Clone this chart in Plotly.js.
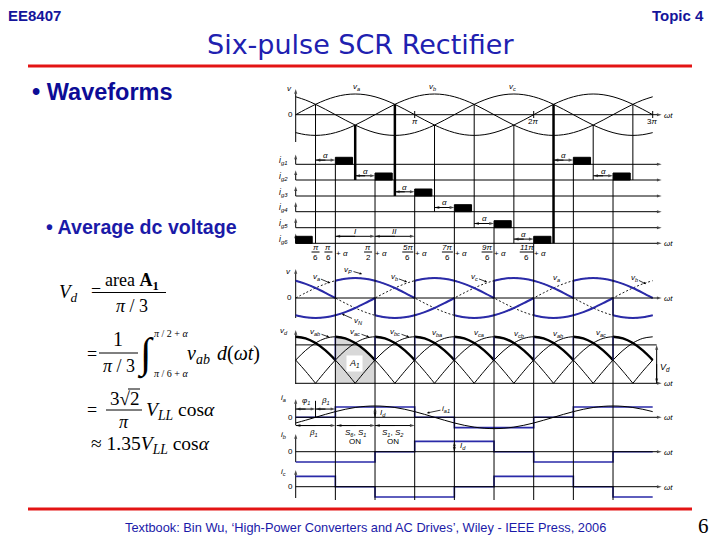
<!DOCTYPE html>
<html><head><meta charset="utf-8">
<script src="https://cdn.plot.ly/plotly-3.0.1.min.js"></script>
<style>html,body{margin:0;padding:0;background:#fff}#chart{width:720px;height:540px}</style>
</head><body><div id="chart"></div>
<script>
// ================= DATA =================
const stepDeg = 15;
const sinTable = [0,0.2588,0.5,0.7071,0.8660,0.9659,1,0.9659,0.8660,0.7071,0.5,0.2588,
                  0,-0.2588,-0.5,-0.7071,-0.8660,-0.9659,-1,-0.9659,-0.8660,-0.7071,-0.5,-0.2588];
const spanStart = 0, spanEnd = 540;
const alphaDeg = 30;
const phaseShift = [0, 120, 240];                 // va, vb, vc
const llShift = [330, 30, 90, 150, 210, 270];     // vab, vac, vbc, vba, vca, vcb
const llGain = 1.732;
const vpBounds = [0, 60, 180, 300, 420, 540];
const vpShift  = [240, 0, 120, 240, 0];
const vnBounds = [0, 120, 240, 360, 480, 540];
const vnShift  = [120, 240, 0, 120, 240];
const vdBounds = [0, 60, 120, 180, 240, 300, 360, 420, 480, 540];
const vdShift  = [270, 330, 30, 90, 150, 210, 270, 330, 30];
const vdAvg = 1.43;
const areaRange = [60, 120], areaShift = 330;
const crossAngles = [30, 90, 150, 210, 270, 330, 390, 450, 510];
const crossValues = [0.5, -0.5, 0.5, -0.5, 0.5, -0.5, 0.5, -0.5, 0.5];
const crossRow    = [6, 2, 3, 4, 5, 6, 6, 2, 2];
const crossThick  = [0, 1, 1, 0, 0, 0, 1, 0, 0];
const fireAngles  = [0, 60, 120, 180, 240, 300, 360, 420, 480];
const fireRow     = [6, 1, 2, 3, 4, 5, 6, 1, 2];
const pulseWidth  = [25, 26, 26, 26, 26, 26, 26, 26, 26];
const fracAngles = [30, 60, 120, 180, 240, 300, 360];
const fracNum = ['π', 'π', 'π', '5π', '7π', '9π', '11π'];
const fracDen = ['6', '6', '2', '6', '6', '6', '6'];
const fracPlusAlpha = [false, true, true, true, true, true, true];
const iaX = [0, 60, 180, 240, 360, 420, 540], iaY = [0, 1, 0, -1, 0, 1, 1];
const ibX = [0, 120, 180, 300, 360, 480, 540], ibY = [-1, 0, 1, 0, -1, 0, 0];
const icX = [0, 60, 120, 240, 300, 420, 480, 540], icY = [1, 0, -1, 0, 1, 0, -1, -1];
const ia1Gain = 1.1, ia1Shift = 30;

// ================= LAYOUT GEOMETRY =================
const W = 720, H = 540;
const X0 = 295.7, PXD = 357 / 540;
const rowPx = [164.3, 180, 196, 211.7, 227.7, 243.3];
const panelDefs = [['top',114.7,20.7],['mid',298,20],['vd',383.3,26.85],['ia',417.3,10.3],['ib',451.7,10.3],['ic',486.7,10.3]];
rowPx.forEach((p,i)=>panelDefs.push(['g'+(i+1),p,7]));
const AX = {}; const PD = {};
panelDefs.forEach((p,i)=>{AX[p[0]]='y'+(i+2); PD[p[0]]={zero:p[1],unit:p[2]};});
const toPx = (panel, v) => PD[panel].zero - v*PD[panel].unit;
const BLUE = '#2a2aa8';
const LF = 'Liberation Sans';

function sine(shift, a, b, gain=1){
  const x=[], y=[];
  for(let t=a; t<=b+1e-9; t+=stepDeg){
    const k = ((((t-shift)/stepDeg)%24)+24)%24;
    x.push(t); y.push(gain*sinTable[k]);
  }
  return {x,y};
}
const traces = [];
function line(x,y,yaxis,color,width,shape='spline',dash='solid'){
  traces.push({type:'scatter',mode:'lines',x,y,yaxis,line:{color,width,shape,dash},hoverinfo:'skip'});
}
function rail(bounds, shifts, gain, yaxis, color, width, jumpColor, jumpWidth){
  const X=[],Y=[],JX=[],JY=[]; let prev=null;
  for(let i=0;i<shifts.length;i++){
    const d=sine(shifts[i],bounds[i],bounds[i+1],gain);
    X.push(...d.x,null); Y.push(...d.y,null);
    if(prev!==null){JX.push(bounds[i],bounds[i],null); JY.push(prev,d.y[0],null);}
    prev=d.y[d.y.length-1];
  }
  line(X,Y,yaxis,color,width);
  line(JX,JY,yaxis,jumpColor,jumpWidth,'linear');
}
// arrows drawn as traces with arrow markers
function AR(x0,y0,x1,y1,yaxis,dbl=false){
  let x,y,s;
  if(dbl){const mx=(x0+x1)/2,my=(y0+y1)/2; x=[mx,x0,mx,x1]; y=[my,y0,my,y1]; s=[0,5,0,5];}
  else {x=[x0,x1]; y=[y0,y1]; s=[0,5];}
  traces.push({type:'scatter',mode:'lines+markers',x,y,yaxis,line:{color:'#000',width:1},
    marker:{symbol:'arrow',angleref:'previous',size:s,color:'#000',line:{width:0}},hoverinfo:'skip'});
}

// ---- top panel ----
phaseShift.forEach(s=>{const d=sine(s,spanStart,spanEnd); line(d.x,d.y,AX.top,'#000',1);});
// ---- middle panel ----
phaseShift.forEach(s=>{const d=sine(s,spanStart,spanEnd); line(d.x,d.y,AX.mid,'#000',0.9,'spline','2px,2px');});
rail(vpBounds,vpShift,1,AX.mid,BLUE,2,BLUE,1.5);
rail(vnBounds,vnShift,1,AX.mid,BLUE,2,BLUE,1.5);
// ---- vd panel ----
{ const d=sine(areaShift,areaRange[0],areaRange[1],llGain);
  traces.push({type:'scatter',mode:'lines',x:d.x,y:d.y,yaxis:AX.vd,fill:'tozeroy',fillcolor:'#d8d8d8',line:{width:0,shape:'spline'},hoverinfo:'skip'}); }
{ const X=[],Y=[];
  llShift.forEach(s=>{ for(let n=-1;n<=1;n++){ const a=Math.max(spanStart,s+360*n), b=Math.min(spanEnd,s+360*n+180);
      if(b>a){const d=sine(s,a,b,llGain); X.push(...d.x,null); Y.push(...d.y,null);} } });
  line(X,Y,AX.vd,'#000',1); }
rail(vdBounds,vdShift,llGain,AX.vd,'#000',2.4,BLUE,1.5);
line([0,546],[vdAvg,vdAvg],AX.vd,'#000',1,'linear');
// ---- currents ----
line(iaX,iaY,AX.ia,BLUE,1.6,'hv');
{const d=sine(ia1Shift,spanStart,spanEnd,ia1Gain); line(d.x,d.y,AX.ia,'#000',1);}
line(ibX,ibY,AX.ib,BLUE,1.6,'hv');
line(icX,icY,AX.ic,BLUE,1.6,'hv');
// ---- gate pulses ----
fireAngles.forEach((s,i)=>{const w=pulseWidth[i];
  traces.push({type:'scatter',mode:'lines',x:[s,s,s+w,s+w,s],y:[0,1,1,0,0],yaxis:AX['g'+fireRow[i]],fill:'toself',fillcolor:'#000',line:{color:'#000',width:1},hoverinfo:'skip'});});

// ================= ANNOTATIONS / SHAPES =================
const ann=[], shapes=[];
function T(text,px,py,size=8,o={}){ann.push(Object.assign({xref:'paper',yref:'paper',x:px/W,y:1-py/H,text,showarrow:false,xanchor:'center',yanchor:'middle',font:{family:LF,size,color:'#000'}},o));}
function TX(text,deg,py,size=8,o={}){ann.push(Object.assign({xref:'x',yref:'y',x:deg,y:py,text,showarrow:false,xanchor:'center',yanchor:'middle',font:{family:LF,size,color:'#000'}},o));}
function TP(text,px,py,hx,hy,size=8){ann.push({xref:'paper',yref:'paper',x:hx/W,y:1-hy/H,ax:px-hx,ay:py-hy,text,showarrow:true,arrowhead:2,arrowsize:0.6,arrowwidth:0.8,arrowcolor:'#000',standoff:0,font:{family:LF,size,color:'#000'}});}
function SL(x0,y0,x1,y1,xref,yref,color='#000',width=1){shapes.push({type:'line',x0,y0,x1,y1,xref,yref,line:{color,width}});}
const wtEnd = (661.7-X0)/PXD;

// axes arrows
AR(0,142,0,89,'y'); AR(0,0,wtEnd,0,AX.top);
[180,360,540].forEach(a=>SL(a,111,a,118,'x','y'));
rowPx.forEach((p,i)=>{AR(0,0,wtEnd,0,AX['g'+(i+1)]); AR(0,0,0,1.4,AX['g'+(i+1)]);});
AR(0,318,0,269,'y'); AR(0,0,wtEnd,0,AX.mid);
AR(0,384,0,330,'y'); AR(0,0,wtEnd,0,AX.vd);
AR(0,425,0,399,'y'); AR(0,0,wtEnd,0,AX.ia);
AR(0,462,0,434,'y'); AR(0,0,wtEnd,0,AX.ib);
AR(0,498,0,470,'y'); AR(0,0,wtEnd,0,AX.ic);

// vertical lines
fireAngles.forEach((a,i)=>{ if(i>0) SL(a,rowPx[fireRow[i]-1],a,500,'x','y','#000',1); });
crossAngles.forEach((a,i)=>SL(a,toPx('top',crossValues[i]),a,rowPx[crossRow[i]-1],'x','y','#000',crossThick[i]?2.5:1));

// alpha arrows
crossAngles.forEach((a,i)=>{ if(i+1<fireRow.length){ const g='g'+fireRow[i+1];
  AR(a,0.6,a+alphaDeg,0.6,AX[g],true);
  ann.push({xref:'x',yref:AX[g],x:a+alphaDeg/2,y:1.25,text:'<i>α</i>',showarrow:false,font:{family:LF,size:8,color:'#000'}}); }});
AR(60,1,120,1,AX.g6,true); AR(120,1,180,1,AX.g6,true);
ann.push({xref:'x',yref:AX.g6,x:90,y:1.75,text:'<i>I</i>',showarrow:false,font:{family:LF,size:8,color:'#000'}});
ann.push({xref:'x',yref:AX.g6,x:150,y:1.75,text:'<i>II</i>',showarrow:false,font:{family:LF,size:8,color:'#000'}});

// fraction labels
fracAngles.forEach((a,i)=>{
  const c = fracPlusAlpha[i]? a-10.5 : a;
  const hw = fracNum[i].length>2?7:(fracNum[i].length>1?5.5:4);
  TX('<i>'+fracNum[i]+'</i>',c,247.5,8);
  TX(fracDen[i],c,257,8);
  shapes.push({type:'line',xref:'x',yref:'y',x0:c-hw/PXD,x1:c+hw/PXD,y0:252,y1:252,line:{color:'#000',width:1}});
  if(fracPlusAlpha[i]) TX('+ <i>α</i>',a+9.5,253,8);
});

// labels: top panel
T('<i>v</i>',289,89); T('0',290,114.7);
T('<i>v<sub>a</sub></i>',356,86.5); T('<i>v<sub>b</sub></i>',432,86.5); T('<i>v<sub>c</sub></i>',512,87);
T('<i>π</i>',415,121,8); T('2<i>π</i>',533,121,8); T('3<i>π</i>',652,121,8);
rowPx.forEach((p,i)=>T('<i>i<sub>g'+(i+1)+'</sub></i>',283,p-4,8.5));
[114.7,243.3,298,383.3,417.3,451.7,486.7].forEach(p=>T('<i>ωt</i>',668,p+0.5,8));
// middle panel
T('<i>v</i>',288,271); T('0',289,297.5);
TP('<i>v<sub>a</sub></i>',316,277,330,283); TP('<i>v<sub>P</sub></i>',348,270,362,274);
TP('<i>v<sub>b</sub></i>',394,277,407,282); TP('<i>v<sub>c</sub></i>',474,277,487,282);
T('<i>v<sub>a</sub></i>',556,278); TP('<i>v<sub>b</sub></i>',634,278,646,284);
TP('<i>v<sub>N</sub></i>',358,321,342,314);
// vd panel
T('<i>v<sub>d</sub></i>',284,331);
TP('<i>v<sub>ab</sub></i>',315,332,329,337); TP('<i>v<sub>ac</sub></i>',355,332,369,337); TP('<i>v<sub>bc</sub></i>',395,332,409,337);
T('<i>v<sub>ba</sub></i>',437,333); T('<i>v<sub>ca</sub></i>',479,333); T('<i>v<sub>cb</sub></i>',519,334);
T('<i>v<sub>ab</sub></i>',558,334); T('<i>v<sub>ac</sub></i>',601,333);
AR(546,0,546,vdAvg,AX.vd,true);
T('<i>V<sub>d</sub></i>',665,367,9);
T('<i>A<sub>1</sub></i>',354,363,9,{bgcolor:'#fff',borderpad:2});
// currents
T('<i>i<sub>a</sub></i>',283,398); T('0',290,417.3);
T('<i>i<sub>b</sub></i>',283,435); T('0',290,451.7);
T('<i>i<sub>c</sub></i>',283,472); T('0',290,486.7);
AR(0,0.8,30,0.8,AX.ia,true); AR(30,0.8,60,0.8,AX.ia,true); SL(30,0,30,1.6,'x',AX.ia);
T('<i>φ<sub>1</sub></i>',306,401); T('<i>β<sub>1</sub></i>',325,401);
AR(120,0,120,1,AX.ia,true); T('<i>I<sub>d</sub></i>',383,413);
TP('<i>i<sub>a1</sub></i>',446,409,427,413);
AR(0,-0.8,60,-0.8,AX.ia,true); AR(62,-0.8,120,-0.8,AX.ia,true); AR(120,-0.8,180,-0.8,AX.ia,true);
T('<i>β<sub>1</sub></i>',313,433); T('<i>S<sub>6</sub></i>, <i>S<sub>1</sub></i>',355,432.5); T('ON',355,441.5);
T('<i>S<sub>1</sub></i>, <i>S<sub>2</sub></i>',393,432.5); T('ON',393,441.5);
AR(240,0,240,1,AX.ib,true); T('<i>I<sub>d</sub></i>',463,446);

// ---- slide text ----
const HB='#14149a';
T('<b>EE8407</b>',34.5,15,15,{font:{family:LF,size:15,color:HB}});
T('<b>Topic 4</b>',678,15,15,{font:{family:LF,size:15,color:HB}});
T('Six-pulse SCR Rectifier',360,44,27,{font:{family:'DejaVu Sans',size:27,color:'#2020b0'}});
shapes.push({type:'line',xref:'paper',yref:'paper',x0:28/W,x1:692/W,y0:1-66/H,y1:1-66/H,line:{color:'#e31414',width:3}});
shapes.push({type:'line',xref:'paper',yref:'paper',x0:28/W,x1:692/W,y0:1-509/H,y1:1-509/H,line:{color:'#e31414',width:3}});
T('<b>• Waveforms</b>',30,92,23,{xanchor:'left',font:{family:LF,size:23.5,color:'#0c0c96'}});
T('<b>• Average dc voltage</b>',44,227,19,{xanchor:'left',font:{family:LF,size:19.6,color:'#1a1aa8'}});
T('Textbook: Bin Wu, ‘High-Power Converters and AC Drives’, Wiley - IEEE Press, 2006',365,527,12,{font:{family:'Liberation Sans Narrow, Liberation Sans',size:12.8,color:'#1a1aa8'}});
T('6',703,526,20,{font:{family:'Liberation Serif',size:21,color:'#000'}});
// equations
const SF='Liberation Serif';
const E=(t,px,py,s,o={})=>T(t,px,py,s,Object.assign({font:{family:SF,size:s,color:'#000'}},o));
E('<i>V<sub>d</sub></i>',68,293,19);
E('=',96,291,18);
E('area <b>A<sub>1</sub></b>',132,281,18);
shapes.push({type:'line',xref:'paper',yref:'paper',x0:99/W,x1:166/W,y0:1-292.5/H,y1:1-292.5/H,line:{color:'#000',width:1}});
E('<i>π</i> / 3',132,306,18);
E('=',92,354,18);
E('1',118,339,20);
shapes.push({type:'line',xref:'paper',yref:'paper',x0:99/W,x1:138/W,y0:1-353/H,y1:1-353/H,line:{color:'#000',width:1}});
E('<i>π</i> / 3',119,366,18);
E('∫',145,354,42);
E('<i>π</i> / 2 + <i>α</i>',171,333,10);
E('<i>π</i> / 6 + <i>α</i>',171,373,10);
E('<i>v<sub>ab</sub></i>',198,354,20);
E('<i>d</i>(<i>ωt</i>)',238,353,20);
E('=',92,410,18);
E('3√2',124,398,19);
shapes.push({type:'line',xref:'paper',yref:'paper',x0:128/W,x1:140/W,y0:1-389/H,y1:1-389/H,line:{color:'#000',width:1}});
shapes.push({type:'line',xref:'paper',yref:'paper',x0:106/W,x1:142/W,y0:1-410/H,y1:1-410/H,line:{color:'#000',width:1}});
E('<i>π</i>',124,422,18);
E('<i>V<sub>LL</sub></i> cos<i>α</i>',180,411,19.5);
E('≈ 1.35<i>V<sub>LL</sub></i> cos<i>α</i>',150,445,19.5);

const hidden={showgrid:false,zeroline:false,showticklabels:false,showline:false,ticks:'',fixedrange:true};
const layout={width:W,height:H,margin:{l:0,r:0,t:0,b:0,pad:0},paper_bgcolor:'#fff',plot_bgcolor:'rgba(0,0,0,0)',
  showlegend:false,hovermode:false,annotations:ann,shapes:shapes,
  xaxis:Object.assign({domain:[0,1],range:[-X0/PXD,(W-X0)/PXD]},hidden),
  yaxis:Object.assign({domain:[0,1],range:[H,0]},hidden)};
panelDefs.forEach((p,i)=>{layout['yaxis'+(i+2)]=Object.assign({domain:[0,1],range:[(p[1]-H)/p[2],p[1]/p[2]],overlaying:'y'},hidden);});
Plotly.newPlot('chart',traces,layout,{staticPlot:true,displayModeBar:false});
</script></body></html>
